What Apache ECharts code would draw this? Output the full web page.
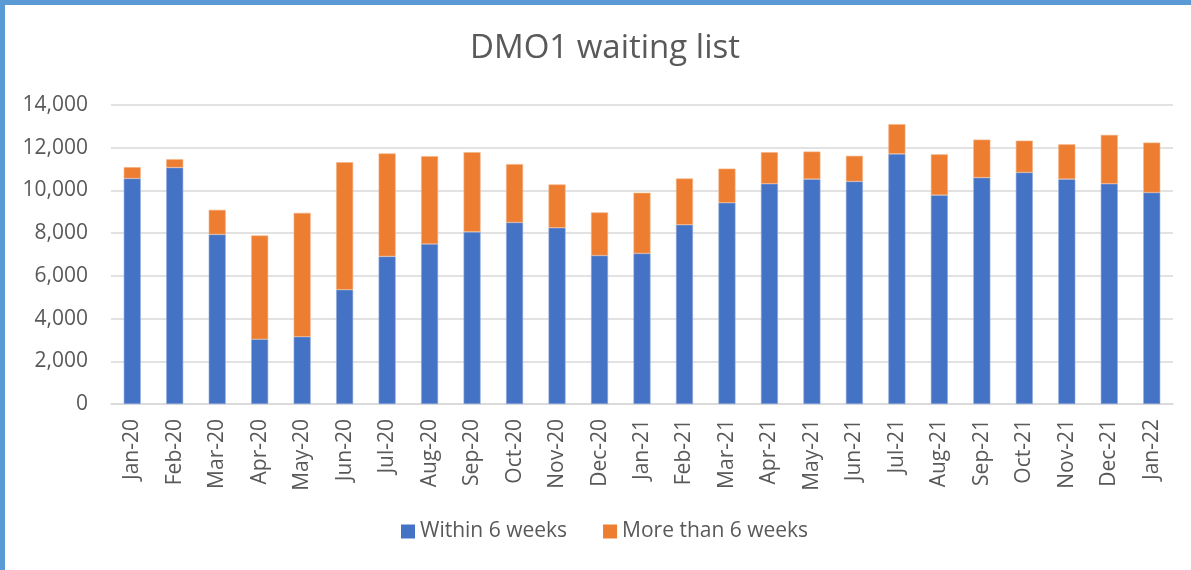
<!DOCTYPE html>
<html>
<head>
<meta charset="utf-8">
<script src="https://cdn.jsdelivr.net/npm/echarts@6/dist/echarts.min.js"></script>
<style>
  html, body { margin: 0; padding: 0; background: #ffffff; }
  #chart { position: absolute; left: 0; top: 0; width: 1191px; height: 570px; }
  #frame { position: absolute; left: 0; top: 0; width: 1191px; height: 570px;
           box-sizing: border-box; border-left: 5px solid #5B9BD5; border-top: 5px solid #5B9BD5;
           pointer-events: none; }
</style>
</head>
<body>
<div id="chart"></div>
<div id="frame"></div>
<script>
const categories = ["Jan-20","Feb-20","Mar-20","Apr-20","May-20","Jun-20","Jul-20","Aug-20","Sep-20","Oct-20","Nov-20","Dec-20","Jan-21","Feb-21","Mar-21","Apr-21","May-21","Jun-21","Jul-21","Aug-21","Sep-21","Oct-21","Nov-21","Dec-21","Jan-22"];
const within6Weeks = [10560,11070,7940,3030,3150,5350,6910,7490,8060,8500,8250,6950,7050,8390,9420,10310,10530,10420,11710,9780,10600,10840,10530,10310,9900];
const moreThan6Weeks = [530,390,1150,4860,5800,5970,4820,4110,3730,2730,2030,2020,2840,2170,1600,1480,1290,1200,1390,1910,1780,1490,1630,2290,2340];
const yTicks = [0,2000,4000,6000,8000,10000,12000,14000];

const font = "'Open Sans', 'Liberation Sans', sans-serif";
const chart = echarts.init(document.getElementById('chart'), null, { renderer: 'canvas' });
chart.setOption({
  backgroundColor: '#ffffff',
  animation: false,
  title: {
    text: 'DMO1 waiting list',
    left: 465,
    top: 27,
    textStyle: { fontFamily: font, fontSize: 33, fontWeight: 'normal', color: '#595959' }
  },
  legend: {
    bottom: 23,
    left: 396,
    itemWidth: 14,
    itemHeight: 14,
    itemGap: 36,
    icon: 'rect',
    itemStyle: { borderWidth: 0 },
    textStyle: { fontFamily: font, fontSize: 21, color: '#595959' },
    data: ['Within 6 weeks', 'More than 6 weeks']
  },
  grid: { left: 111, right: 18, top: 105, bottom: 166, containLabel: false },
  xAxis: {
    type: 'category',
    data: categories,
    axisLine: { show: true, lineStyle: { color: '#d9d9d9', width: 1.5 } },
    axisTick: { show: false },
    axisLabel: { rotate: 90, margin: 15, fontFamily: font, fontSize: 21, color: '#595959', interval: 0 }
  },
  yAxis: {
    type: 'value',
    min: yTicks[0],
    max: yTicks[yTicks.length - 1],
    interval: yTicks[1] - yTicks[0],
    axisLine: { show: false },
    axisTick: { show: false },
    splitLine: { lineStyle: { color: '#d9d9d9', width: 1.5 } },
    axisLabel: {
      margin: 23, fontFamily: font, fontSize: 21, color: '#595959',
      formatter: v => v.toLocaleString('en-US')
    }
  },
  series: [
    {
      name: 'Within 6 weeks', type: 'bar', stack: 'total', data: within6Weeks,
      barWidth: 17,
      itemStyle: { color: '#4472C4', borderColor: '#8eaadb', borderWidth: 0.6 }
    },
    {
      name: 'More than 6 weeks', type: 'bar', stack: 'total', data: moreThan6Weeks,
      barWidth: 17,
      itemStyle: { color: '#ED7D31', borderColor: '#f4b183', borderWidth: 0.6 }
    }
  ]
});
</script>
</body>
</html>
